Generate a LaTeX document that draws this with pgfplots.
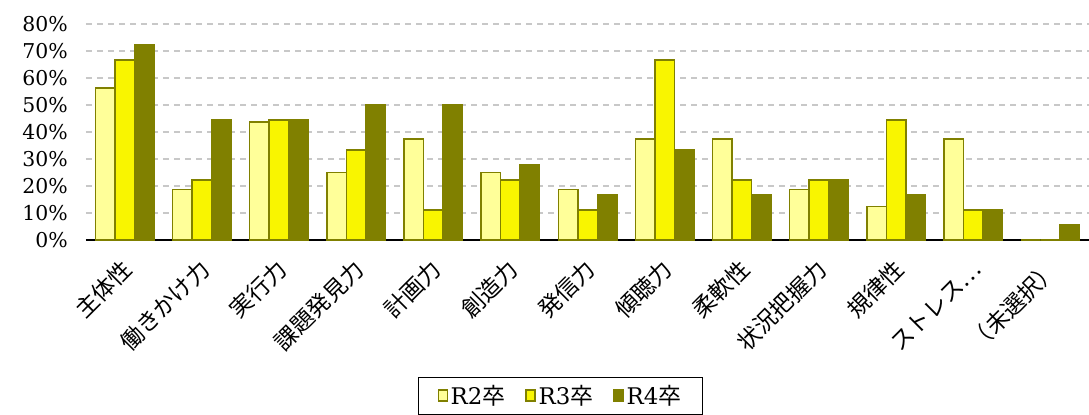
\documentclass[border=0pt]{standalone}
\usepackage{fontspec}
\setmainfont{DejaVu Serif}
\newfontfamily\cjk{Noto Sans CJK JP}
\usepackage{pgfplots}
\pgfplotsset{compat=1.18}
\definecolor{olivebar}{HTML}{808000}
\definecolor{paleyel}{HTML}{FFFF99}
\definecolor{yelbar}{HTML}{F9F500}
\definecolor{gridgray}{HTML}{C8C8C8}
\begin{document}
\begin{tikzpicture}
\path[use as bounding box] (-86bp,-175bp) rectangle (1003bp,240bp);
\begin{axis}[
    scale only axis,
    width=1003bp, height=216bp,
    ybar=0pt, bar width=19.5bp,
    xmin=-0.5, xmax=12.5,
    ymin=0, ymax=80,
    xtick={0,...,12},
    xticklabels={主体性,働きかけ力,実行力,課題発見力,計画力,創造力,発信力,傾聴力,柔軟性,状況把握力,規律性,ストレス…,（未選択）},
    % shifts below act in the rotated frame
    xticklabel style={font=\cjk\fontsize{23}{25}\selectfont, rotate=45, anchor=east, inner sep=0pt, xshift=-15bp, yshift=-20bp},
    ytick={0,10,...,80},
    yticklabels={0\%,10\%,20\%,30\%,40\%,50\%,60\%,70\%,80\%},
    yticklabel style={font=\fontsize{20.5}{22}\selectfont, inner sep=0pt, xshift=-18bp},
    major tick length=0pt,
    ymajorgrids,
    major grid style={gridgray, line width=1.5bp, dash pattern=on 6bp off 5bp},
    axis x line*=bottom, axis y line*=left,
    y axis line style={draw=none},
    x axis line style={black, line width=1.5bp, -},
    legend columns=3,
    legend style={at={(0.473,-0.634)}, anchor=north, draw=black, line width=1.5bp,
        font=\fontsize{23}{25}\selectfont, column sep=1bp, inner xsep=19bp, inner ysep=6bp,
        /tikz/every even column/.append style={column sep=18bp}},
    legend image code/.code={\draw[#1, line width=1.2bp] (0bp,-5bp) rectangle (9bp,6bp);},
]
\addplot[fill=paleyel, draw=olivebar, line width=1.5bp] coordinates {
(0,56.25) (1,18.75) (2,43.75) (3,25) (4,37.5) (5,25) (6,18.75) (7,37.5) (8,37.5) (9,18.75) (10,12.5) (11,37.5) (12,0)};
\addlegendentry{R2{\cjk 卒}}
\addplot[fill=yelbar, draw=olivebar, line width=1.5bp] coordinates {
(0,66.67) (1,22.22) (2,44.44) (3,33.33) (4,11.11) (5,22.22) (6,11.11) (7,66.67) (8,22.22) (9,22.22) (10,44.44) (11,11.11) (12,0)};
\addlegendentry{R3{\cjk 卒}}
\addplot[fill=olivebar, draw=olivebar, line width=1.5bp] coordinates {
(0,72.22) (1,44.44) (2,44.44) (3,50) (4,50) (5,27.78) (6,16.67) (7,33.33) (8,16.67) (9,22.22) (10,16.67) (11,11.11) (12,5.56)};
\addlegendentry{R4{\cjk 卒}}
\end{axis}
\end{tikzpicture}
\end{document}
